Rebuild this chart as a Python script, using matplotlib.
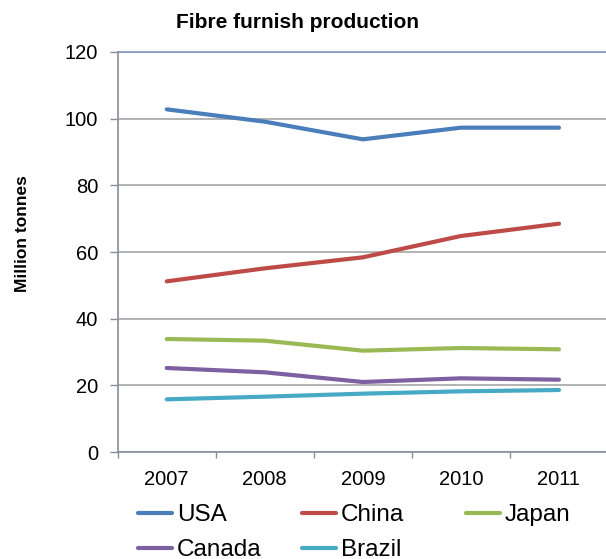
import matplotlib
matplotlib.use("Agg")
import matplotlib.pyplot as plt
from matplotlib.ticker import FixedLocator, NullFormatter

plt.rcParams['font.family'] = ['Liberation Sans', 'DejaVu Sans']

years = ['2007', '2008', '2009', '2010', '2011']
usa = [102.8, 99.1, 93.8, 97.3, 97.3]
china = [51.2, 55.1, 58.4, 64.8, 68.5]
japan = [33.9, 33.4, 30.4, 31.2, 30.8]
canada = [25.2, 23.9, 21.0, 22.1, 21.7]
brazil = [15.8, 16.6, 17.5, 18.2, 18.6]

series = [('USA', usa, '#4A7EBB'), ('China', china, '#BE4B48'),
          ('Japan', japan, '#98B954'), ('Canada', canada, '#7D60A0'),
          ('Brazil', brazil, '#46AAC5')]

W, H = 606, 559
fig = plt.figure(figsize=(W / 100, H / 100), dpi=100)
ax = fig.add_axes([117.7 / W, (H - 452) / H, (608 - 117.7) / W, 400 / H])

x = list(range(1, len(years) + 1))
handles = {}
for name, vals, col in series:
    ln, = ax.plot(x, vals, color=col, lw=3, solid_capstyle='round', solid_joinstyle='round', zorder=3)
    handles[name] = ln

ax.set_xlim(0.5, len(years) + 0.5)
ax.set_ylim(0, 120)
ax.set_yticks(range(0, 121, 20))
ax.grid(axis='y', color='#A6A6A6', lw=1.2, zorder=1)
ax.set_axisbelow(True)

ax.xaxis.set_major_locator(FixedLocator([i + 0.5 for i in range(0, len(years) + 1)]))
ax.xaxis.set_major_formatter(NullFormatter())
ax.xaxis.set_minor_locator(FixedLocator(x))
ax.set_xticklabels(years, minor=True)
ax.tick_params(axis='x', which='major', length=4.5, width=1, color='#868E9A', direction='out')
ax.tick_params(axis='x', which='minor', length=0, pad=13, labelsize=14.5)
ax.tick_params(axis='y', length=6, width=1, color='#868E9A', pad=8, labelsize=14.5)

for s in ['left', 'bottom']:
    ax.spines[s].set_color('#868E9A')
    ax.spines[s].set_linewidth(1.2)
ax.spines['right'].set_visible(False)
ax.spines['top'].set_color('#7F97BF')
ax.spines['top'].set_linewidth(1.2)

ax.set_ylabel('Million tonnes', fontsize=12.5, fontweight='bold')
ax.yaxis.set_label_coords((30 - 117.7) / (608 - 117.7), (452 - 234) / 400)

fig.text(297 / W, 1 - 23 / H, 'Fibre furnish production', ha='center', va='center',
         fontsize=15, fontweight='bold')

cols = [(['USA', 'Canada'], 138), (['China', 'Brazil'], 302), (['Japan'], 466)]
for names, px in cols:
    fig.legend(handles=[handles[n] for n in names], labels=names, loc='upper left',
               bbox_to_anchor=(px / W, 1 - 504 / H), frameon=False, fontsize=17.5,
               handlelength=1.4, handletextpad=0.2, borderpad=0, borderaxespad=0,
               labelspacing=0.55)

fig.savefig('out.png', dpi=100)
